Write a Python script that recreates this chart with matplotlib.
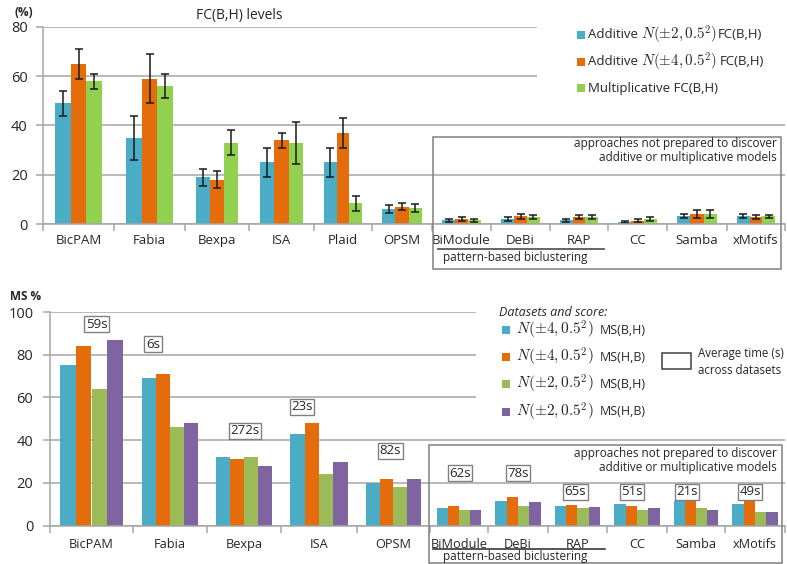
import numpy as np
import matplotlib
matplotlib.use("Agg")
import matplotlib.pyplot as plt
from matplotlib.patches import Rectangle
from matplotlib.lines import Line2D

plt.rcParams['font.family'] = ['Open Sans', 'DejaVu Sans']
plt.rcParams['mathtext.fontset'] = 'cm'

# ---------------- data ----------------
# FC(B,H) levels (%), mean and spread across datasets
fc_methods = ['BicPAM', 'Fabia', 'Bexpa', 'ISA', 'Plaid', 'OPSM',
              'BiModule', 'DeBi', 'RAP', 'CC', 'Samba', 'xMotifs']
fc_add2 = [49, 35, 19, 25, 25, 6.1, 1.6, 2.0, 1.5, 0.9, 3.2, 3.2]
fc_add2_err = [5, 9, 3.5, 6, 6, 1.7, 0.6, 0.8, 0.6, 0.5, 0.7, 0.8]
fc_add4 = [65, 59, 18, 34, 37, 7.0, 2.0, 3.1, 2.7, 1.4, 3.9, 2.7]
fc_add4_err = [6, 10, 3.5, 3, 6, 1.4, 0.8, 0.9, 0.8, 0.5, 1.6, 0.8]
fc_mult = [58, 56, 33, 33, 8.4, 6.6, 1.6, 2.8, 2.7, 2.0, 4.0, 3.2]
fc_mult_err = [3, 5, 5, 8.5, 3, 1.6, 0.6, 0.8, 0.8, 0.7, 1.7, 0.6]

# match scores (%)
ms_methods = ['BicPAM', 'Fabia', 'Bexpa', 'ISA', 'OPSM',
              'BiModule', 'DeBi', 'RAP', 'CC', 'Samba', 'xMotifs']
ms_n4_bh = [75, 69, 32, 43, 20, 8.1, 11.4, 9.2, 10.3, 11.4, 10.3]
ms_n4_hb = [84, 71, 31, 48, 22, 9.2, 13.4, 9.8, 9.2, 11.4, 11.4]
ms_n2_bh = [64, 46, 32, 24, 18, 7.2, 9.2, 8.3, 7.2, 8.3, 6.2]
ms_n2_hb = [87, 48, 28, 30, 22, 7.2, 10.9, 8.7, 8.1, 7.2, 6.2]
avg_time = ['59s', '6s', '272s', '23s', '82s', '62s', '78s', '65s', '51s', '21s', '49s']

# ---------------- layout ----------------
W, H = 787, 564
fig = plt.figure(figsize=(W / 100, H / 100), dpi=100)

def fx(x):
    return x / W

def fy(y):
    return 1 - y / H

def axes_px(x0, y0, x1, y1):
    return fig.add_axes([fx(x0), fy(y1), (x1 - x0) / W, (y1 - y0) / H])

BLUE = '#4BACC6'
ORANGE = '#E46C0A'
LGREEN = '#92D050'
OGREEN = '#9BBB59'
PURPLE = '#8064A2'
GRID = '#a6a6a6'
TXT = '#262626'
BOXC = '#808080'

# category slot widths (pixels) for each panel
fc_slots = [71, 71, 64, 65, 58, 60, 59, 59, 58, 59, 60, 58]
ms_slots = [83, 74, 74, 76, 73, 58, 60, 59, 60, 58, 60]


def style_axes(ax, slots, labels, ymax, ystep, ypad, xpad, xsize):
    edges = np.concatenate([[0], np.cumsum(slots)])
    centers = (edges[:-1] + edges[1:]) / 2
    ax.set_xlim(0, edges[-1])
    ax.set_ylim(0, ymax)
    ax.set_yticks(np.arange(0, ymax + 1, ystep))
    ax.yaxis.grid(True, color=GRID, lw=1.1)
    ax.set_axisbelow(True)
    for s in ('top', 'right'):
        ax.spines[s].set_visible(False)
    for s in ('left', 'bottom'):
        ax.spines[s].set_color(GRID)
        ax.spines[s].set_linewidth(1.1)
    ax.set_xticks(edges)
    ax.set_xticklabels([])
    ax.set_xticks(centers, minor=True)
    ax.set_xticklabels(labels, minor=True)
    ax.tick_params(axis='x', which='major', length=5, color=GRID, width=1.1)
    ax.tick_params(axis='x', which='minor', length=0, pad=xpad, labelsize=xsize,
                   labelcolor=TXT)
    ax.tick_params(axis='y', length=5, color=GRID, width=1.1, labelsize=10.5,
                   labelcolor=TXT, pad=ypad)
    return centers


# ---------------- top panel: FC(B,H) levels ----------------
ax1 = axes_px(43, 27, 785, 224)
c1 = style_axes(ax1, fc_slots, fc_methods, 80, 20, 6, 7, 9.5)
bw1 = 0.22 * np.array(fc_slots)
ekw = dict(ecolor='#1a1a1a', elinewidth=1.1, capsize=3, capthick=1.1)
for k, (vals, errs, col) in enumerate([(fc_add2, fc_add2_err, BLUE),
                                       (fc_add4, fc_add4_err, ORANGE),
                                       (fc_mult, fc_mult_err, LGREEN)]):
    ax1.bar(c1 + (k - 1) * bw1, vals, width=bw1, color=col, yerr=errs,
            error_kw=ekw, zorder=2)

fig.text(fx(239), fy(15), 'FC(B,H) levels', ha='center', va='center',
         fontsize=10, color=TXT)
fig.text(fx(24), fy(12), '(%)', ha='center', va='center', fontsize=8.5,
         color=TXT, fontweight='bold')

# ---------------- bottom panel: match scores ----------------
ax2 = axes_px(50, 312, 785, 525.7)
c2 = style_axes(ax2, ms_slots, ms_methods, 100, 20, 7, 9, 9.2)
bw2 = 0.19 * np.array(ms_slots)
for k, (vals, col) in enumerate([(ms_n4_bh, BLUE), (ms_n4_hb, ORANGE),
                                 (ms_n2_bh, OGREEN), (ms_n2_hb, PURPLE)]):
    ax2.bar(c2 + (k - 1.5) * bw2, vals, width=bw2, color=col, zorder=2)

# average running time boxes above each group
time_dx = [5, -17, 1, -17, -3, 1, 0, -2, -5, -9, -5]
time_y = [94.2, 84.9, 44.5, 55.7, 35.1, 24.5, 24.5, 15.9, 15.9, 15.9, 15.9]
for i, t in enumerate(avg_time):
    ax2.text(c2[i] + time_dx[i], time_y[i], t, ha='center', va='center',
             fontsize=9.5, color=TXT, zorder=4,
             bbox=dict(boxstyle='square,pad=0.12', fc='white', ec=BOXC, lw=1))

fig.text(fx(26), fy(297), 'MS %', ha='center', va='center', fontsize=8.5,
         color=TXT, fontweight='bold')

# ---------------- legends ----------------
def cover(x0, y0, x1, y1):
    fig.add_artist(Rectangle((fx(x0), fy(y1)), (x1 - x0) / W, (y1 - y0) / H,
                             transform=fig.transFigure, fc='white', ec='none',
                             zorder=5))

def swatch(x, y, col, s=8):
    fig.add_artist(Rectangle((fx(x), fy(y + s / 2)), s / W, s / H,
                             transform=fig.transFigure, fc=col, ec='none',
                             zorder=6))

def ftext(x, y, s, **kw):
    kw.setdefault('color', TXT)
    kw.setdefault('zorder', 7)
    return fig.text(fx(x), fy(y), s, va='center', **kw)

renderer = fig.canvas.get_renderer()

def right_edge(t):
    return t.get_window_extent(renderer=renderer).x1

cover(537, 0, 787, 117)
top_leg = [(BLUE, 'Additive', '$N(\\pm2, 0.5^2)$', 'FC(B,H)', 1),
           (ORANGE, 'Additive', '$N(\\pm4, 0.5^2)$', 'FC(B,H)', 3)]
for j, (col, word, dist, score, gap) in enumerate(top_leg):
    yy = 35 + j * 26.7
    swatch(577, yy, col)
    ftext(588, yy, word, ha='left', fontsize=9.5)
    m = ftext(641, yy, dist, ha='left', fontsize=10.8)
    ftext(right_edge(m) + gap, yy, score, ha='left', fontsize=9.5)
swatch(577, 35 + 2 * 26.7, LGREEN)
ftext(588, 35 + 2 * 26.7, 'Multiplicative FC(B,H)', ha='left', fontsize=9.5)

cover(476, 288, 787, 432)
ftext(499, 313, 'Datasets and score:', ha='left', fontsize=9, style='italic')
bot_leg = [(BLUE, '$N(\\pm4, 0.5^2)$', 'MS(B,H)'),
           (ORANGE, '$N(\\pm4, 0.5^2)$', 'MS(H,B)'),
           (OGREEN, '$N(\\pm2, 0.5^2)$', 'MS(B,H)'),
           (PURPLE, '$N(\\pm2, 0.5^2)$', 'MS(H,B)')]
for j, (col, dist, score) in enumerate(bot_leg):
    yy = 330 + j * 27.2
    swatch(502, yy, col)
    ftext(516, yy, dist, ha='left', fontsize=11)
    ftext(600, yy, score, ha='left', fontsize=9)
fig.add_artist(Rectangle((fx(662), fy(369)), 29 / W, 16 / H,
                         transform=fig.transFigure, fc='white', ec='#404040',
                         lw=1.1, zorder=6))
ftext(698, 354, 'Average time (s)', ha='left', fontsize=8.3)
ftext(698, 370, 'across datasets', ha='left', fontsize=8.3)

# ---------------- "not prepared" regions ----------------
def frame(x0, y0, x1, y1):
    fig.add_artist(Rectangle((fx(x0), fy(y1)), (x1 - x0) / W, (y1 - y0) / H,
                             transform=fig.transFigure, fc='none', ec=BOXC,
                             lw=1.1, zorder=6))

note = 'approaches not prepared to discover\nadditive or multiplicative models'
frame(433, 137, 781, 269)
ftext(777, 150.5, note, ha='right', fontsize=8.5, linespacing=1.15)
fig.add_artist(Line2D([fx(438), fx(604)], [fy(249), fy(249)],
                      transform=fig.transFigure, color='#595959', lw=1.3,
                      zorder=7))
ftext(443, 258, 'pattern-based biclustering', ha='left', fontsize=8.5)

frame(429, 445, 782, 563)
ftext(777, 460.5, note, ha='right', fontsize=8.5, linespacing=1.15)
fig.add_artist(Line2D([fx(433), fx(605)], [fy(548.5), fy(548.5)],
                      transform=fig.transFigure, color='#262626', lw=1.1,
                      zorder=7))
ftext(443, 556.5, 'pattern-based biclustering', ha='left', fontsize=8.5)

fig.savefig('out.png', dpi=100)
